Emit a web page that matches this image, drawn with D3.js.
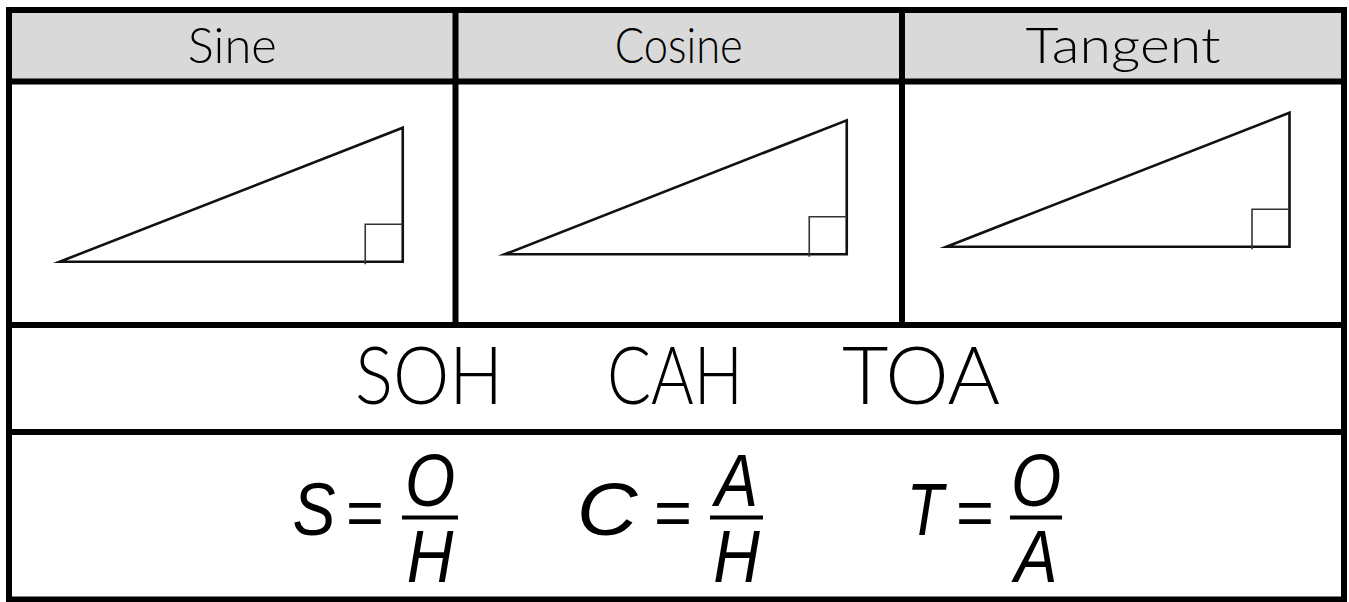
<!DOCTYPE html>
<html>
<head>
<meta charset="utf-8">
<script src="https://cdn.jsdelivr.net/npm/d3@7"></script>
<style>
  html, body { margin: 0; padding: 0; background: #fff; }
  svg { display: block; }
</style>
</head>
<body>
<svg id="chart" width="1349" height="602"></svg>
<script>

// values
const headers = ["Sine", "Cosine", "Tangent"]
const adjacent = [343, 342, 343]      // horizontal leg of each triangle
const opposite = [134, 134, 134]      // vertical leg of each triangle
const squareSide = [37.5, 37.5, 37.5] // right-angle marker
const mnemonics = ["SOH", "CAH", "TOA"]
const ratioLetters = ["S", "C", "T"]
const numerators = ["O", "A", "O"]
const denominators = ["H", "H", "A"]

// layout (pixels)
const headerWidths = [89, 128, 195]
const mnemonicWidths = [148, 136, 158]
const triShiftX = [-1, -3, -5]
const triBaseY = [261.7, 254.3, 246.7]
const letterX = [314, 607, 925]
const letterSquash = [0.86, 1.12, 0.8]
const fracSquash = 0.86
const equalX = [365, 673, 975]
const barX = [430, 736.5, 1036]
const barW = [56, 53, 52]

document.addEventListener("DOMContentLoaded", () => {

  const svg = d3.select("#chart")

  // 1. Scales for the grid: column edges and row edges
  const colX = d3.scaleLinear().domain([0, 2, 3]).range([9, 902, 1344])
  const rowY = d3.scaleLinear().domain([0, 1, 2, 3, 4]).range([10, 81.5, 325, 432, 599.5])

  // 2. Grey header band
  svg.append("rect")
     .attr("x", colX(0))
     .attr("y", rowY(0))
     .attr("width", colX(3) - colX(0))
     .attr("height", rowY(1) - rowY(0))
     .attr("fill", "#d9d9d9")

  // 3. Triangles, one per column
  const tri = svg.selectAll(".tri")
                 .data(headers)
                 .enter()
                 .append("g")
                 .attr("class", "tri")

  tri.each(function (d, i) {
    const g = d3.select(this)
    const cx = (colX(i) + colX(i + 1)) / 2 + triShiftX[i]
    const x = d3.scaleLinear().domain([0, adjacent[i]]).range([cx - adjacent[i] / 2, cx + adjacent[i] / 2])
    const y = d3.scaleLinear().domain([0, opposite[i]]).range([triBaseY[i], triBaseY[i] - opposite[i]])
    const line = d3.line().x(p => x(p[0])).y(p => y(p[1]))

    g.append("path")
     .attr("d", line([[0, 0], [adjacent[i], 0], [adjacent[i], opposite[i]]]) + "Z")
     .attr("fill", "none")
     .attr("stroke", "#111")
     .attr("stroke-width", 2.6)
     .attr("stroke-linejoin", "miter")
     .attr("stroke-miterlimit", 8)

    const s = squareSide[i]
    g.append("path")
     .attr("d", "M" + x(adjacent[i] - s) + "," + (y(0) + 2.5) +
                "V" + y(s) + "H" + x(adjacent[i]))
     .attr("fill", "none")
     .attr("stroke", "#333")
     .attr("stroke-width", 1.6)
  })

  // 4. Grid lines
  const lineW = 6

  svg.append("rect")
     .attr("x", colX(0))
     .attr("y", rowY(0))
     .attr("width", colX(3) - colX(0))
     .attr("height", rowY(4) - rowY(0))
     .attr("fill", "none")
     .attr("stroke", "#000")
     .attr("stroke-width", lineW)

  svg.selectAll(".hline")
     .data([1, 2, 3])
     .enter()
     .append("line")
     .attr("class", "hline")
     .attr("x1", colX(0))
     .attr("x2", colX(3))
     .attr("y1", d => rowY(d))
     .attr("y2", d => rowY(d))
     .attr("stroke", "#000")
     .attr("stroke-width", lineW)

  svg.selectAll(".vline")
     .data([1, 2])
     .enter()
     .append("line")
     .attr("class", "vline")
     .attr("x1", d => colX(d))
     .attr("x2", d => colX(d))
     .attr("y1", rowY(0))
     .attr("y2", rowY(2))
     .attr("stroke", "#000")
     .attr("stroke-width", lineW)

  // 5. Header labels
  svg.selectAll(".header")
     .data(headers)
     .enter()
     .append("text")
     .attr("class", "header")
     .text(d => d)
     .attr("x", (d, i) => (colX(i) + colX(i + 1)) / 2)
     .attr("y", 63)
     .attr("text-anchor", "middle")
     .attr("font-family", "Lato, 'DejaVu Sans', sans-serif")
     .attr("font-weight", 300)
     .attr("font-size", 50)
     .attr("textLength", (d, i) => headerWidths[i])
     .attr("lengthAdjust", "spacingAndGlyphs")
     .attr("fill", "#000")

  // 6. SOH CAH TOA
  const wordX = d3.scalePoint().domain(mnemonics).range([429, 921])

  svg.selectAll(".mnemonic")
     .data(mnemonics)
     .enter()
     .append("text")
     .attr("class", "mnemonic")
     .text(d => d)
     .attr("x", d => wordX(d))
     .attr("y", 404)
     .attr("text-anchor", "middle")
     .attr("font-family", "Lato, 'DejaVu Sans', sans-serif")
     .attr("font-weight", 300)
     .attr("font-size", 81)
     .attr("textLength", (d, i) => mnemonicWidths[i])
     .attr("lengthAdjust", "spacingAndGlyphs")
     .attr("fill", "#000")

  // 7. Ratio formulas
  const formula = svg.selectAll(".formula")
                     .data(ratioLetters)
                     .enter()
                     .append("g")
                     .attr("class", "formula")
                     .attr("font-family", "'Liberation Sans', Arial, sans-serif")
                     .attr("font-size", 75)
                     .attr("fill", "#000")

  // narrow a glyph to match the condensed look of the original
  const squash = (sel, k) => sel.each(function (d, i) {
    const f = typeof k === "function" ? k(d, i) : k
    d3.select(this)
      .attr("textLength", this.getComputedTextLength() * f)
      .attr("lengthAdjust", "spacingAndGlyphs")
  })

  formula.append("text")
         .text(d => d)
         .attr("x", (d, i) => letterX[i])
         .attr("y", 535)
         .attr("text-anchor", "middle")
         .attr("font-style", "italic")
         .call(squash, (d, i) => letterSquash[i])

  formula.append("text")
         .text("=")
         .attr("x", (d, i) => equalX[i])
         .attr("y", 535)
         .attr("text-anchor", "middle")
         .attr("font-size", 65)

  formula.append("line")
         .attr("x1", (d, i) => barX[i] - barW[i] / 2)
         .attr("x2", (d, i) => barX[i] + barW[i] / 2)
         .attr("y1", 517.5)
         .attr("y2", 517.5)
         .attr("stroke", "#000")
         .attr("stroke-width", 4)

  formula.append("text")
         .text((d, i) => numerators[i])
         .attr("x", (d, i) => barX[i])
         .attr("y", 506)
         .attr("text-anchor", "middle")
         .attr("font-style", "italic")
         .call(squash, fracSquash)

  formula.append("text")
         .text((d, i) => denominators[i])
         .attr("x", (d, i) => barX[i])
         .attr("y", 582)
         .attr("text-anchor", "middle")
         .attr("font-style", "italic")
         .call(squash, fracSquash)

})

</script>
</body>
</html>
